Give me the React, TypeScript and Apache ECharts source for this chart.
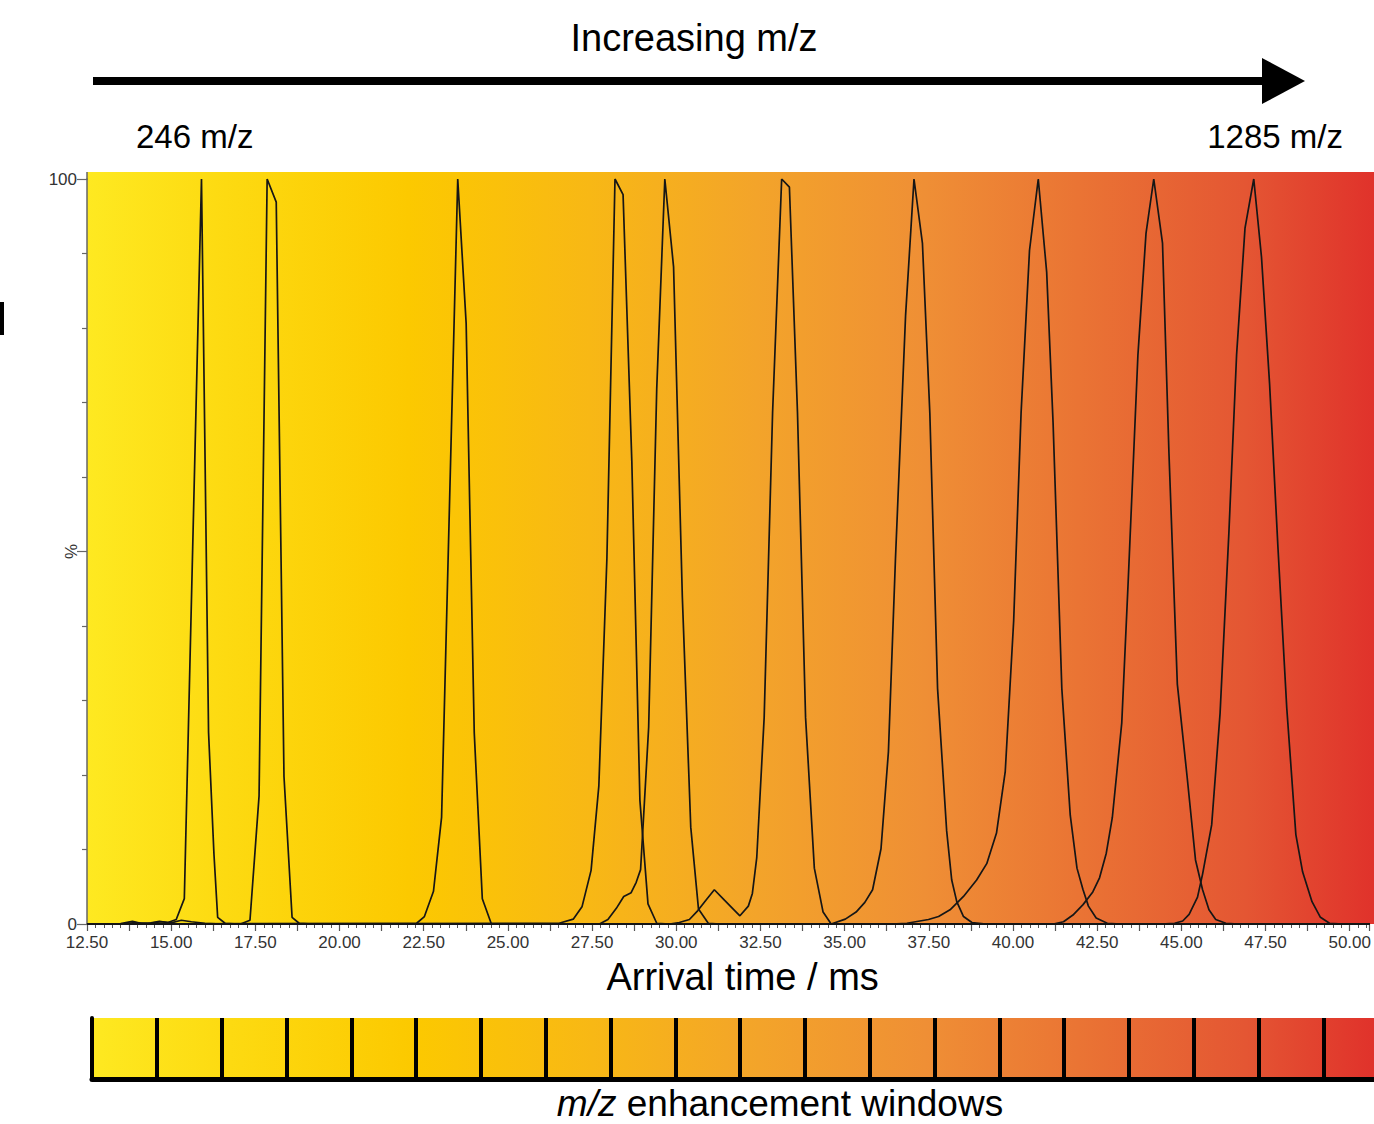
import React, { useEffect, useRef } from 'react';
import * as echarts from 'echarts';

// ---------- data (arrival time in ms, relative intensity in %) ----------
const peak246: number[][] = [
  [12.5, 0], [13.5, 0.05], [13.85, 0.35], [14.1, 0.1], [14.4, 0.15], [14.65, 0.35], [14.9, 0.2],
  [15.15, 0.6], [15.39, 3.4], [15.9, 100], [16.11, 25.7], [16.27, 9.4], [16.38, 0.9], [16.6, 0.1],
  [17.0, 0], [50.6, 0],
];
const peak2: number[][] = [
  [12.5, 0], [13.6, 0], [13.9, 0.2], [14.3, 0.05], [14.7, 0.3], [15.0, 0.15], [15.3, 0.5], [15.6, 0.3],
  [16.0, 0.1], [16.5, 0], [17.06, 0], [17.34, 0.5], [17.61, 17.2], [17.85, 100], [18.12, 96.9],
  [18.35, 19.8], [18.59, 0.9], [18.8, 0.1], [19.2, 0], [50.6, 0],
];
const peak3: number[][] = [
  [12.5, 0], [22.29, 0.1], [22.52, 1.0], [22.79, 4.4], [23.03, 14.3], [23.51, 100], [23.76, 80.6],
  [24.0, 25.7], [24.24, 3.4], [24.51, 0], [50.6, 0],
];
const peak4: number[][] = [
  [12.5, 0], [26.52, 0.1], [26.94, 0.65], [27.2, 2.3], [27.47, 7.2], [27.7, 18.5], [27.94, 49.1],
  [28.18, 100], [28.42, 97.9], [28.68, 62.1], [28.92, 16.6], [29.16, 2.7], [29.42, 0.1], [29.8, 0], [50.6, 0],
];
const peak5: number[][] = [
  [12.5, 0], [27.72, 0], [27.97, 0.6], [28.22, 2.1], [28.44, 3.7], [28.66, 4.2], [28.81, 5.6],
  [28.94, 7.3], [29.18, 26.4], [29.42, 71.9], [29.66, 100], [29.92, 88.2], [30.18, 43.9],
  [30.43, 13.0], [30.66, 2.0], [30.95, 0.1], [31.3, 0], [50.6, 0],
];
const peak6: number[][] = [
  [12.5, 0], [29.8, 0], [30.09, 0.2], [30.39, 0.6], [30.64, 1.8], [30.88, 3.2], [31.13, 4.6],
  [31.43, 3.2], [31.67, 2.1], [31.89, 1.1], [32.14, 2.4], [32.26, 4.1], [32.39, 8.9], [32.61, 27.7],
  [32.86, 68.6], [33.13, 100], [33.36, 98.9], [33.6, 68.6], [33.84, 27.7], [34.1, 7.5], [34.36, 1.6],
  [34.6, 0], [50.6, 0],
];
const peak7: number[][] = [
  [12.5, 0], [34.6, 0], [35.02, 0.65], [35.34, 1.6], [35.6, 2.9], [35.83, 4.6], [36.08, 10.1],
  [36.3, 23.1], [36.51, 49.1], [36.81, 81.7], [37.06, 100], [37.31, 91.4], [37.53, 68.6],
  [37.76, 31.6], [38.03, 12.5], [38.18, 5.9], [38.33, 3.0], [38.53, 1.0], [38.78, 0.2], [39.2, 0], [50.6, 0],
];
const peak8: number[][] = [
  [12.5, 0], [36.4, 0], [36.85, 0.1], [37.49, 0.6], [37.79, 1.0], [38.13, 1.9], [38.53, 3.7],
  [38.92, 5.9], [39.22, 8.1], [39.51, 12.2], [39.77, 20.5], [40.02, 40.7], [40.24, 68.6],
  [40.49, 90.4], [40.75, 100], [41.0, 87.5], [41.19, 67.3], [41.45, 31.6], [41.7, 14.6],
  [41.9, 7.5], [42.08, 4.6], [42.24, 2.4], [42.47, 0.8], [42.8, 0.1], [43.2, 0], [50.6, 0],
];
const peak9: number[][] = [
  [12.5, 0], [41.2, 0], [41.5, 0.3], [41.78, 1.2], [42.08, 2.6], [42.37, 4.3], [42.57, 6.2],
  [42.77, 9.5], [42.95, 14.3], [43.23, 27.0], [43.42, 45.9], [43.71, 76.4], [43.95, 92.7],
  [44.18, 100], [44.44, 91.4], [44.63, 63.4], [44.88, 32.2], [45.17, 19.8], [45.42, 8.6],
  [45.63, 4.6], [45.82, 1.9], [46.02, 0.6], [46.32, 0.1], [46.7, 0], [50.6, 0],
];
const peak1285: number[][] = [
  [12.5, 0], [44.4, 0], [44.8, 0.1], [45.04, 0.4], [45.23, 1.3], [45.48, 3.6], [45.63, 6.7],
  [45.9, 13.3], [46.15, 28.3], [46.41, 52.4], [46.64, 76.4], [46.89, 93.4], [47.15, 100],
  [47.38, 89.5], [47.62, 72.5], [47.87, 50.4], [48.13, 29.0], [48.4, 12.0], [48.6, 7.0],
  [48.88, 3.0], [49.13, 0.9], [49.4, 0.1], [49.8, 0], [50.6, 0],
];
const peaks = [peak246, peak2, peak3, peak4, peak5, peak6, peak7, peak8, peak9, peak1285];

const mzLow = '246 m/z';
const mzHigh = '1285 m/z';
const enhancementWindows = [
  'W1', 'W2', 'W3', 'W4', 'W5', 'W6', 'W7', 'W8', 'W9', 'W10',
  'W11', 'W12', 'W13', 'W14', 'W15', 'W16', 'W17', 'W18', 'W19', 'W20',
];
const yLabels = [0, 100];

// ---------- styles ----------
const FONT = '"Liberation Sans", Arial, Helvetica, sans-serif';
const gradientColors: [number, string][] = [
  [0, '#FEE921'],
  [0.1, '#FDDB12'],
  [0.25, '#FCC900'],
  [0.39, '#F8B815'],
  [0.52, '#F3A42A'],
  [0.65, '#EF8F35'],
  [0.77, '#EA7434'],
  [0.9, '#E45633'],
  [1, '#E0322B'],
];
const makeGradient = () => ({
  type: 'linear', x: 0, y: 0, x2: 1, y2: 0,
  colorStops: gradientColors.map(([offset, color]) => ({ offset, color })),
});

export default function App() {
  const ref = useRef<HTMLDivElement>(null);
  useEffect(() => {
    if (!ref.current) return;
    const chart = echarts.init(ref.current, undefined, { renderer: 'svg' });
    const option: any = {
      animation: false,
      graphic: [
        { type: 'rect', z: -10, silent: true, shape: { x: 87, y: 172, width: 1287, height: 752 }, style: { fill: makeGradient() } },
        { type: 'line', silent: true, shape: { x1: 87, y1: 172, x2: 87, y2: 180 }, style: { stroke: '#666', lineWidth: 1.5 } },
        {
          type: 'text', x: 694, y: 38, silent: true,
          style: { text: 'Increasing m/z', fontSize: 38, fontFamily: FONT, fill: '#000', align: 'center', verticalAlign: 'middle', textAlign: 'center', textVerticalAlign: 'middle' },
        },
        { type: 'rect', silent: true, shape: { x: 93, y: 77, width: 1172, height: 8 }, style: { fill: '#000' } },
        { type: 'polygon', silent: true, shape: { points: [[1262, 58], [1305, 81], [1262, 104]] }, style: { fill: '#000' } },
        {
          type: 'text', x: 136, y: 136, silent: true,
          style: { text: mzLow, fontSize: 33, fontFamily: FONT, fill: '#000', align: 'left', verticalAlign: 'middle', textAlign: 'left', textVerticalAlign: 'middle' },
        },
        {
          type: 'text', x: 1343, y: 136, silent: true,
          style: { text: mzHigh, fontSize: 33, fontFamily: FONT, fill: '#000', align: 'right', verticalAlign: 'middle', textAlign: 'right', textVerticalAlign: 'middle' },
        },
        { type: 'rect', silent: true, shape: { x: 0, y: 302, width: 4, height: 33 }, style: { fill: '#000' } },
        {
          type: 'text', x: 780, y: 1103, silent: true,
          style: {
            text: '{i|m/z} enhancement windows', fontSize: 37, lineHeight: 30, fontFamily: FONT, fill: '#000',
            align: 'center', verticalAlign: 'middle', textAlign: 'center', textVerticalAlign: 'middle',
            rich: {
              i: { fontStyle: 'italic', fontSize: 37, lineHeight: 30, fontFamily: FONT, fill: '#000', color: '#000' },
            },
          },
        },
      ],
      grid: [
        { left: 87, top: 179, width: 1287, height: 745, containLabel: false },
        { left: 92, top: 1018, width: 1282, height: 61, show: true, backgroundColor: makeGradient(), borderWidth: 0 },
      ],
      xAxis: [
        {
          type: 'value', gridIndex: 0, min: 12.5, max: 50.58, interval: 1.25,
          axisLine: { show: true, onZero: false, lineStyle: { color: '#555', width: 1.5 } },
          axisTick: { show: true, length: 7, lineStyle: { color: '#555', width: 1.2 } },
          minorTick: { show: true, splitNumber: 5, length: 4, lineStyle: { color: '#555', width: 1 } },
          splitLine: { show: false },
          axisLabel: {
            fontSize: 17, color: '#333', fontFamily: FONT, margin: 10,
            formatter: (v: number) => (Math.abs(v / 2.5 - Math.round(v / 2.5)) < 1e-9 ? v.toFixed(2) : ''),
          },
          name: 'Arrival time / ms', nameLocation: 'middle', nameGap: 34, nameMoveOverlap: false,
          nameTextStyle: { fontSize: 38, color: '#000', fontFamily: FONT, padding: [0, 0, 0, 29] },
        },
        {
          type: 'value', gridIndex: 1, min: 0, max: 19.78, interval: 1,
          axisLine: { show: true, onZero: false, lineStyle: { color: '#000', width: 5 } },
          axisTick: { show: false }, axisLabel: { show: false },
          splitLine: { show: true, showMinLine: false, showMaxLine: false, lineStyle: { color: '#000', width: 4 } },
        },
      ],
      yAxis: [
        {
          type: 'value', gridIndex: 0, min: 0, max: 100, interval: 50,
          axisLine: { show: true, lineStyle: { color: '#666', width: 1.5 } },
          axisTick: { show: true, length: 10, lineStyle: { color: '#666', width: 1.2 } },
          minorTick: { show: true, splitNumber: 5, length: 5, lineStyle: { color: '#666', width: 1.2 } },
          splitLine: { show: false },
          axisLabel: {
            fontSize: 17, color: '#333', fontFamily: FONT, margin: 10,
            formatter: (v: number) => (yLabels.includes(v) ? String(v) : ''),
          },
          name: '%', nameLocation: 'middle', nameRotate: 90, nameGap: 7, nameMoveOverlap: false,
          nameTextStyle: { fontSize: 17, color: '#333', fontFamily: FONT },
        },
        {
          type: 'value', gridIndex: 1, min: 0, max: 1,
          axisLine: { show: true, onZero: false, lineStyle: { color: '#000', width: 4 } },
          axisTick: { show: false }, axisLabel: { show: false }, splitLine: { show: false },
        },
      ],
      series: [
        ...peaks.map((d, i) => ({
          name: 'peak' + (i + 1), type: 'line', xAxisIndex: 0, yAxisIndex: 0, data: d,
          showSymbol: false, symbol: 'none', silent: true, clip: true,
          lineStyle: { color: '#161616', width: 1.7 },
        })),
        {
          name: 'windows', type: 'line', xAxisIndex: 1, yAxisIndex: 1, silent: true,
          data: enhancementWindows.map(() => null), showSymbol: false, symbol: 'none',
        },
      ],
    };
    chart.setOption(option);
    return () => chart.dispose();
  }, []);
  return <div ref={ref} style={{ position: 'absolute', left: 0, top: 0, width: 1374, height: 1124 }} />;
}
